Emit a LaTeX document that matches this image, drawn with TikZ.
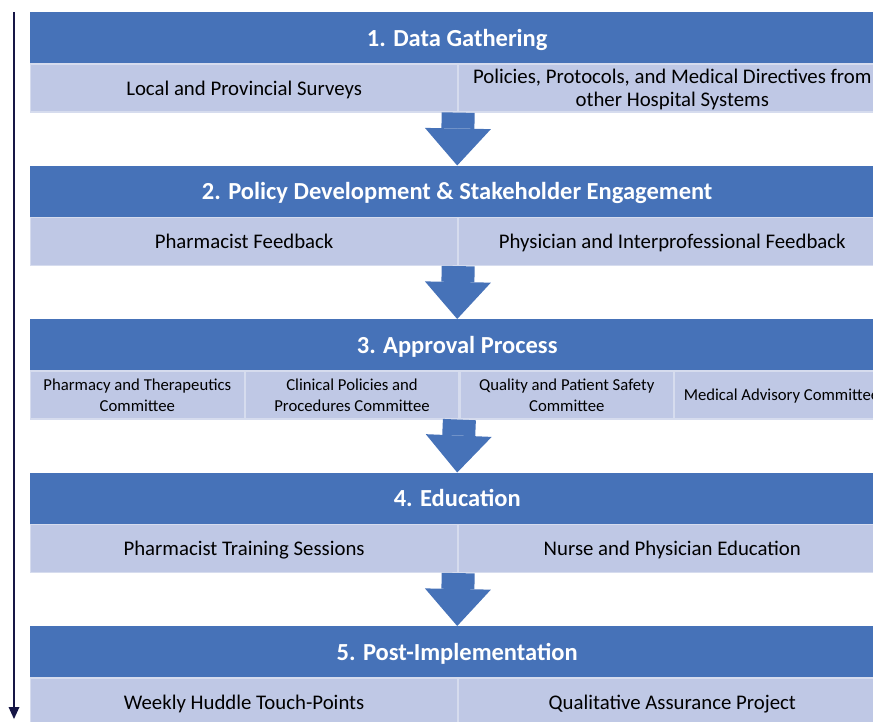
\documentclass[tikz,border=0pt]{standalone}
\usepackage{fontspec}
\setmainfont{Carlito}
\usepackage{tikz}
\usetikzlibrary{arrows.meta,positioning}
\definecolor{hdrblue}{RGB}{70,114,184}
\definecolor{subblue}{RGB}{191,200,229}
\definecolor{subline}{RGB}{214,220,238}
\definecolor{navy}{RGB}{22,22,70}

\begin{document}
\begin{tikzpicture}[x=1pt, y=-1pt,
  hdr/.style={fill=hdrblue, text=white, anchor=north west, inner sep=0pt,
    font=\bfseries\fontsize{24.5}{28}\selectfont, text depth=0pt,
    minimum width=854pt, minimum height=51pt},
  sub/.style={fill=subblue, draw=subline, line width=1.2pt, align=center,
    inner sep=0pt, font=\fontsize{20.8}{23}\selectfont, text depth=0pt,
    minimum width=427pt, minimum height=48pt},
  qsub/.style={sub, minimum width=213.5pt, font=\fontsize{16.7}{21}\selectfont},
  flow/.style={hdrblue, line width=33pt,
    -{Triangle[width=66pt, length=37pt, line width=0pt]}},
  timeline/.style={navy, line width=2.5pt,
    -{Triangle[width=11pt, length=12pt, line width=0pt]}}]
  \useasboundingbox (0,0) rectangle (873,721);
  \clip (0,0) rectangle (873,721);
  % 1. data gathering
  \node[hdr] (h1) at (30,12) {1. Data Gathering};
  \node[sub, below right=0pt of h1.south west] (d1) {Local and Provincial Surveys};
  \node[sub, right=0pt of d1] (d2) {Policies, Protocols, and Medical Directives from\\ other Hospital Systems};
  % 2. policy development
  \node[hdr] (h2) at (30,165.5) {2. Policy Development \& Stakeholder Engagement};
  \node[sub, below right=0pt of h2.south west] (p1) {Pharmacist Feedback};
  \node[sub, right=0pt of p1] (p2) {Physician and Interprofessional Feedback};
  % 3. approval
  \node[hdr] (h3) at (30,319) {3. Approval Process};
  \node[qsub, below right=0pt of h3.south west] (a1) {Pharmacy and Therapeutics\\ Committee};
  \node[qsub, right=0pt of a1] (a2) {Clinical Policies and\\ Procedures Committee};
  \node[qsub, right=0pt of a2] (a3) {Quality and Patient Safety\\ Committee};
  \node[qsub, right=0pt of a3] (a4) {Medical Advisory Committee};
  % 4. education
  \node[hdr] (h4) at (30,472.5) {4. Education};
  \node[sub, below right=0pt of h4.south west] (e1) {Pharmacist Training Sessions};
  \node[sub, right=0pt of e1] (e2) {Nurse and Physician Education};
  % 5. post-implementation
  \node[hdr] (h5) at (30,626) {5. Post-Implementation};
  \node[sub, below right=0pt of h5.south west] (q1) {Weekly Huddle Touch-Points};
  \node[sub, right=0pt of q1] (q2) {Qualitative Assurance Project};
  % block arrows between stages
  \foreach \a/\b in {d2/h2,p2/h3,a3/h4,e2/h5}
    \draw[flow] (\a.south west) -- (\b.north);
  % time line
  \coordinate (tstart) at (14,12);
  \coordinate (tend) at (14,719);
  \draw[timeline] (tstart) -- (tend);
\end{tikzpicture}
\end{document}
